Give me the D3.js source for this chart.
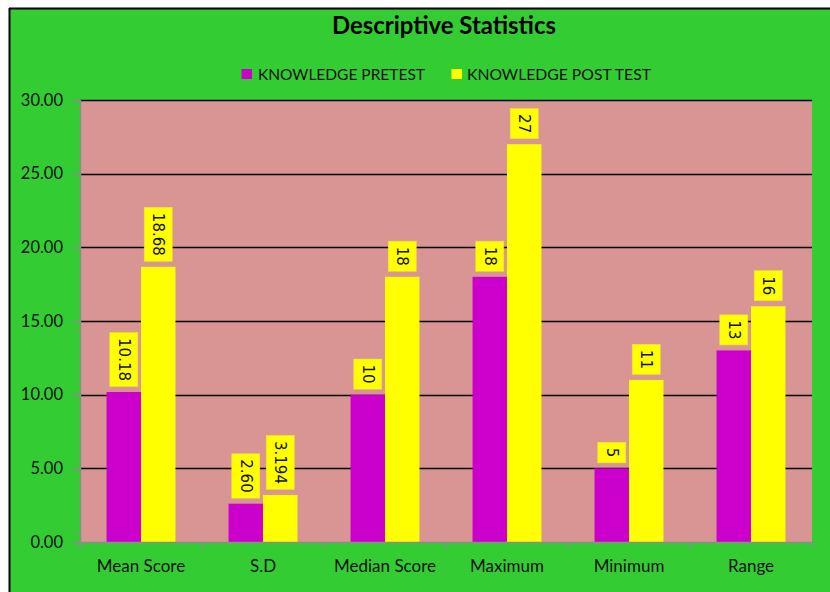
<!DOCTYPE html>
<html><head><meta charset="utf-8">
<script src="https://cdn.jsdelivr.net/npm/d3@7"></script>
<style>html,body{margin:0;padding:0;background:#fff;}svg{display:block;}</style>
</head><body>
<svg id="c" width="830" height="592"></svg>
<script>
const categories = ["Mean Score","S.D","Median Score","Maximum","Minimum","Range"];
const pretest = [10.18, 2.60, 10, 18, 5, 13];
const posttest = [18.68, 3.194, 18, 27, 11, 16];
const pretestLabels = ["10.18","2.60","10","18","5","13"];
const posttestLabels = ["18.68","3.194","18","27","11","16"];
const seriesNames = ["KNOWLEDGE PRETEST","KNOWLEDGE POST TEST"];
const yTicks = [0,5,10,15,20,25,30];

const svg = d3.select("#c");
const W = 830, H = 592;
const m = {left:80, right:812, top:100, bottom:542};
const colors = ["#CC00CC","#FFFF00"];

// background
svg.append("rect").attr("x",9).attr("y",8).attr("width",W-9).attr("height",H-8).attr("fill","#33CC33");
svg.append("line").attr("x1",9).attr("x2",W).attr("y1",8.5).attr("y2",8.5).attr("stroke","#000").attr("stroke-width",2);
svg.append("line").attr("x1",9.5).attr("x2",9.5).attr("y1",8).attr("y2",H).attr("stroke","#000").attr("stroke-width",2);

// plot area
svg.append("rect").attr("x",m.left).attr("y",m.top).attr("width",m.right-m.left).attr("height",m.bottom-m.top).attr("fill","#D99594");

const x0 = d3.scaleBand().domain(categories).range([m.left,m.right]).paddingInner(0).paddingOuter(0);
const x1 = d3.scaleBand().domain([0,1]).range([0,x0.bandwidth()]).paddingOuter(0.77).paddingInner(0);
const y = d3.scaleLinear().domain([0,30]).range([m.bottom,m.top]);

// gridlines
svg.append("g").selectAll("line").data(yTicks.filter(t=>t>0)).join("line")
  .attr("x1",m.left).attr("x2",m.right)
  .attr("y1",d=>Math.round(y(d))+0.5).attr("y2",d=>Math.round(y(d))+0.5)
  .attr("stroke","#000").attr("stroke-width",1.6);

// y axis
const yAxis = d3.axisLeft(y).tickValues(yTicks).tickFormat(d3.format(".2f")).tickSize(7).tickPadding(10);
const ga = svg.append("g").attr("transform",`translate(${m.left},0)`).call(yAxis);
ga.select(".domain").attr("stroke","#8c8c8c").attr("stroke-width",1.5);
ga.selectAll(".tick line").attr("stroke","#8c8c8c").attr("stroke-width",1.5);
ga.selectAll(".tick text").attr("font-family","Lato, 'Open Sans', sans-serif").attr("font-size",16.5).attr("fill","#111");

// bars
const data = categories.map((c,i)=>({c, vals:[pretest[i],posttest[i]], labs:[pretestLabels[i],posttestLabels[i]]}));
const groups = svg.append("g").selectAll("g").data(data).join("g")
  .attr("transform",d=>`translate(${x0(d.c)},0)`);
groups.selectAll("rect").data(d=>d.vals.map((v,k)=>({v,k}))).join("rect")
  .attr("x",d=>x1(d.k)).attr("width",x1.bandwidth())
  .attr("y",d=>y(d.v)).attr("height",d=>y(0)-y(d.v))
  .attr("fill",d=>colors[d.k]);

// x axis
const xAxis = d3.axisBottom(x0).tickSize(0).tickPadding(18);
const gx = svg.append("g").attr("transform",`translate(0,${m.bottom})`).call(xAxis);
gx.select(".domain").attr("stroke","#8c8c8c").attr("stroke-width",1.5);
gx.selectAll(".tick text").attr("font-family","Lato, 'Open Sans', sans-serif").attr("font-size",17).attr("fill","#111");
svg.append("g").selectAll("line").data(d3.range(categories.length+1)).join("line")
  .attr("x1",i=>m.left+i*x0.step()).attr("x2",i=>m.left+i*x0.step())
  .attr("y1",m.bottom).attr("y2",m.bottom+6)
  .attr("stroke","#8c8c8c").attr("stroke-width",1.5);

// data labels
const lab = groups.selectAll("g.lab").data(d=>d.vals.map((v,k)=>({v,k,t:d.labs[k]}))).join("g").attr("class","lab");
lab.each(function(d){
  const g = d3.select(this);
  const cx = x1(d.k)+x1.bandwidth()/2;
  const t = g.append("text").text(d.t).attr("font-family","'DejaVu Sans', sans-serif").attr("font-size",15).attr("fill","#111");
  const len = t.node().getComputedTextLength();
  const bh = len+11, bw = 28;
  const bottom = y(d.v)-5.5;
  g.insert("rect","text").attr("x",cx-bw/2).attr("y",bottom-bh).attr("width",bw).attr("height",bh)
    .attr("fill","#FFFF00").attr("stroke","#f0e040").attr("stroke-width",0.6);
  t.attr("text-anchor","middle").attr("dominant-baseline","central")
    .attr("transform",`translate(${cx},${bottom-bh/2}) rotate(90)`);
});

// title
svg.append("text").attr("x",444).attr("y",34).attr("text-anchor","middle")
  .attr("font-family","Lato, 'Open Sans', sans-serif").attr("font-weight","bold").attr("font-size",24).attr("fill","#000")
  .attr("textLength",224).attr("lengthAdjust","spacingAndGlyphs")
  .text("Descriptive Statistics");

// legend
const leg = [{x:241.5, tx:258, w:167},{x:451.5, tx:467, w:184}];
leg.forEach((l,i)=>{
  svg.append("rect").attr("x",l.x).attr("y",69).attr("width",10.5).attr("height",10).attr("fill",colors[i]);
  svg.append("text").attr("x",l.tx).attr("y",80).attr("font-family","Lato, 'Open Sans', sans-serif")
    .attr("font-size",15.5).attr("fill","#111").attr("textLength",l.w).attr("lengthAdjust","spacingAndGlyphs").text(seriesNames[i]);
});
</script>
</body></html>
